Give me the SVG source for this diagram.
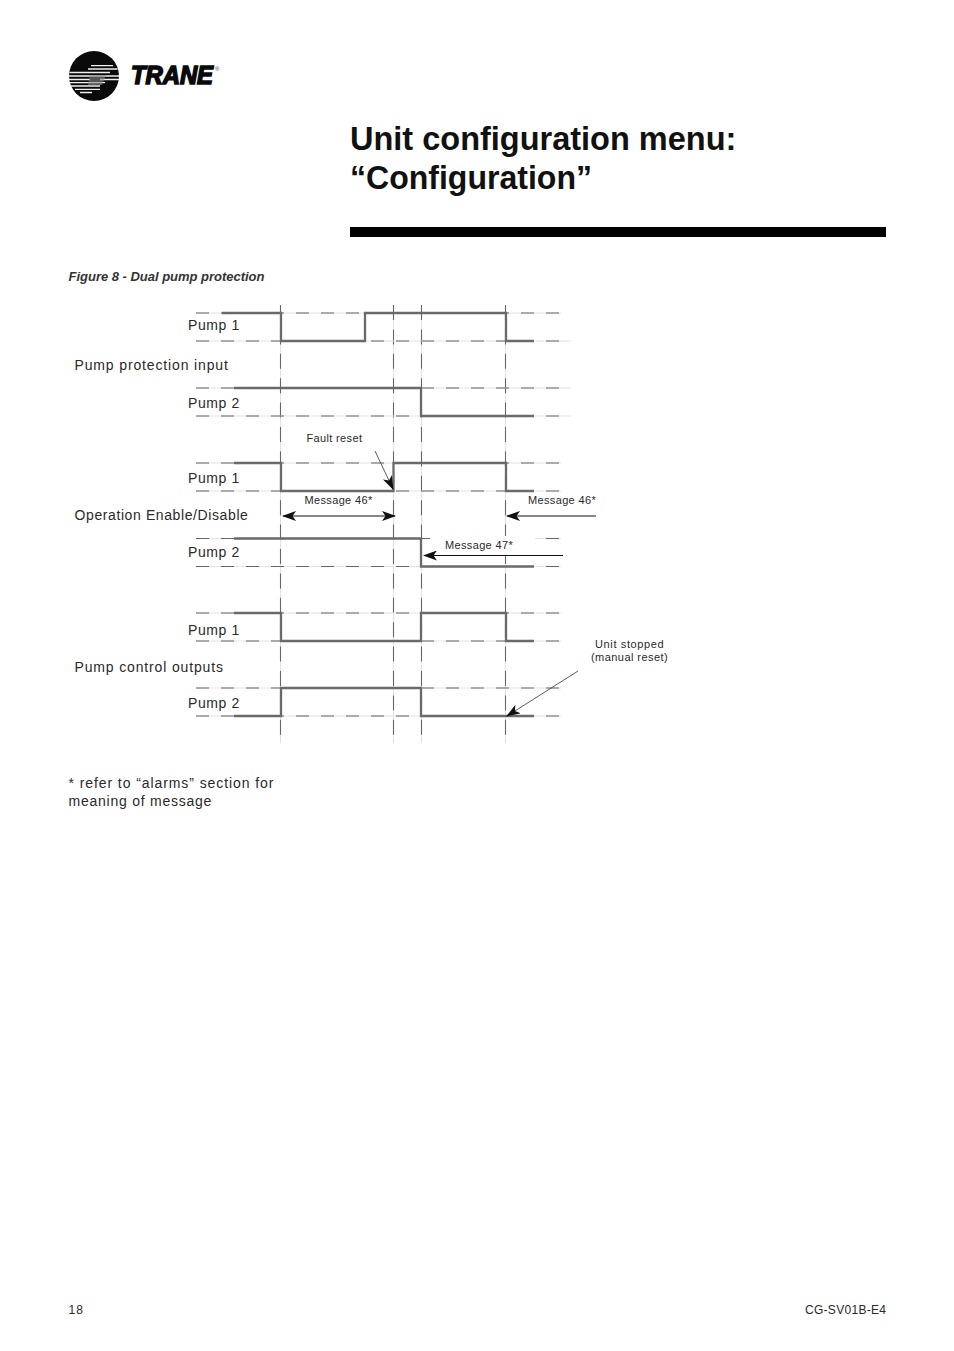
<svg xmlns="http://www.w3.org/2000/svg" width="954" height="1351" viewBox="0 0 954 1351">
<style>
text{font-family:"Liberation Sans",Arial,sans-serif;fill:#2a2a2a}
.t{font-size:14px;letter-spacing:.6px}
.s{font-size:11px;letter-spacing:.35px}
.h{font-size:32.500px;font-weight:bold;fill:#111}
.base{stroke:#e2e2e2;stroke-width:1;fill:none}
.dash{stroke:#666;stroke-width:1.200;fill:none;stroke-dasharray:13 12}
.vd{stroke:#666;stroke-width:1.100;fill:none;stroke-dasharray:15 9.400}
.sig{stroke:#6a6a6a;stroke-width:2.300;fill:none}
.ar{stroke:#111;stroke-width:1.200;fill:none}
.thin{stroke:#333;stroke-width:.8;fill:none}
</style>
<defs>
<marker id="a" viewBox="0 0 14 10" refX="13" refY="5" markerWidth="14" markerHeight="10" markerUnits="userSpaceOnUse" orient="auto-start-reverse"><path d="M0 0L14 5L0 10L3.500 5Z" fill="#111"/></marker>
<g id="hs"><path class="base" d="M196 0H561"/><path class="dash" d="M196 0H561"/></g>
<g id="hl"><path class="base" d="M196 0H571"/><path class="dash" d="M196 0H561"/></g>
<g id="vl"><path class="base" d="M0 305V743"/><path class="vd" d="M0 305V743"/></g>
</defs>
<rect width="954" height="1351" fill="#fff"/>
<g id="logo">
<circle cx="94" cy="76" r="25" fill="#0a0a0a"/>
<path d="M91 65.700H113M88 69H117.500M69.500 72.500H110M69 76H119M69 79.500H90M100 79.500H119M70 82.700H105M71 86H100M75 89.300H100M80 92.500H92" stroke="#f0f0f0" stroke-width="1.300" fill="none"/>
<path d="M90 75H106L102 85H88Z" fill="#888" opacity=".6"/>
<text x="131" y="83.500" style="font-size:25px;font-weight:bold;font-style:italic;stroke:#0a0a0a;stroke-width:1.600px;fill:#0a0a0a" textLength="82" lengthAdjust="spacingAndGlyphs">TRANE</text>
<text x="215" y="71" style="font-size:6px;fill:#444">®</text>
</g>
<g id="title">
<text class="h" x="350" y="150">Unit configuration menu:</text>
<text class="h" x="350" y="189" textLength="242" lengthAdjust="spacingAndGlyphs">“Configuration”</text>
<rect x="350" y="227" width="536" height="10" fill="#000"/>
</g>
<text id="caption" x="68.500" y="281" textLength="196" style="font-size:13px;font-weight:bold;font-style:italic;fill:#333">Figure 8 - Dual pump protection</text>
<g id="guides">
<use href="#vl" x="280.500"/><use href="#vl" x="393.500"/><use href="#vl" x="421.500"/><use href="#vl" x="505.500"/>
<use href="#hs" y="313"/><use href="#hl" y="341"/><use href="#hl" y="388"/><use href="#hl" y="416"/>
<use href="#hs" y="463"/><use href="#hs" y="491"/><use href="#hs" y="538.500"/><use href="#hs" y="566.500"/>
<use href="#hs" y="613"/><use href="#hs" y="641"/><use href="#hs" y="688"/><use href="#hs" y="716"/>
<rect x="430" y="536" width="105" height="19" fill="#fff"/>
</g>
<g id="connectors">
<path class="sig" d="M222 313H281V341H365V313H506V341H534"/>
<path class="sig" d="M234 388H421V416H534"/>
<path class="sig" d="M234 463H281V491H393.500V463H506V491H534"/>
<path class="sig" d="M234 538.500H421V566.500H534"/>
<path class="sig" d="M234 613H281V641H421V613H506V641H534"/>
<path class="sig" d="M234 716H281V688H421V716H534"/>
<path class="thin" d="M375 451L393 489" marker-end="url(#a)"/>
<path class="ar" d="M283 516H395" marker-start="url(#a)" marker-end="url(#a)"/>
<path class="ar" d="M596 516H507" marker-end="url(#a)"/>
<path class="ar" d="M563 555.500H424" marker-end="url(#a)"/>
<path class="thin" d="M578 671L507 716" marker-end="url(#a)"/>
</g>
<g id="labels">
<text class="t" x="188" y="330">Pump 1</text>
<text class="t" x="74.500" y="370" textLength="154">Pump protection input</text>
<text class="t" x="188" y="408">Pump 2</text>
<text class="s" x="306.500" y="442">Fault reset</text>
<text class="t" x="188" y="483">Pump 1</text>
<text class="s" x="304.500" y="504">Message 46*</text>
<text class="s" x="528" y="504">Message 46*</text>
<text class="t" x="74.500" y="520" textLength="174">Operation Enable/Disable</text>
<text class="s" x="445" y="549">Message 47*</text>
<text class="t" x="188" y="557">Pump 2</text>
<text class="t" x="188" y="635">Pump 1</text>
<text class="s" x="595" y="648" textLength="69">Unit stopped</text>
<text class="s" x="591" y="661" textLength="77">(manual reset)</text>
<text class="t" x="74.500" y="672" textLength="149">Pump control outputs</text>
<text class="t" x="188" y="708">Pump 2</text>
<text class="t" x="68.500" y="788" textLength="205.500">* refer to “alarms” section for</text>
<text class="t" x="68.500" y="806" textLength="143.500">meaning of message</text>
</g>
<g id="footer">
<text x="68.500" y="1314" textLength="14.500" style="font-size:12px">18</text>
<text x="805" y="1314" textLength="81" style="font-size:12px">CG-SV01B-E4</text>
</g>
</svg>
